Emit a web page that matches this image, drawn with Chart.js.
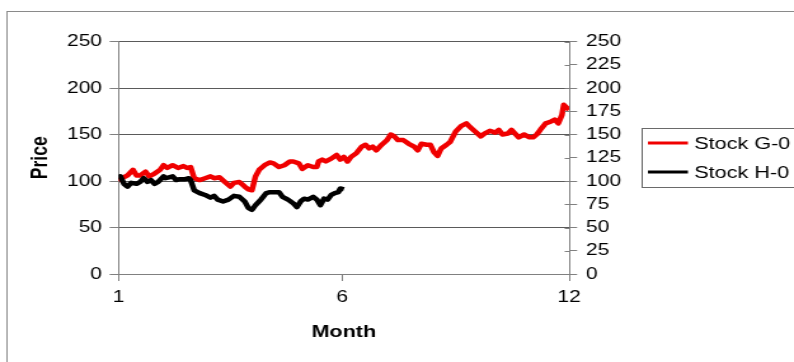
<!DOCTYPE html>
<html>
<head>
<meta charset="utf-8">
<script src="https://cdn.jsdelivr.net/npm/chart.js@4"></script>
<style>
  html, body { margin: 0; padding: 0; background: #fff; overflow: hidden; }
  #wrap { width: 625px; height: 362px; transform: scaleX(1.2704); transform-origin: 0 0; }
</style>
</head>
<body>
<div id="wrap"><canvas id="chart"></canvas></div>
<script>
// trading days on x, month labels only at 3 ticks
const monthTicks = [0, 124, 250];
const monthLabels = ['1', '6', '12'];

const daysG = [0, 2, 5, 8, 10, 12, 15, 17, 20, 23, 25, 27, 30, 33, 36, 38, 40, 42, 45, 48,
    51, 53, 56, 59, 62, 64, 67, 70, 72, 74, 76, 78, 81, 84, 86, 89, 92, 95, 97, 100,
    102, 105, 108, 110, 111, 113, 115, 118, 121, 123, 125, 127, 129, 132, 135, 137, 139, 141, 143, 146,
    149, 151, 153, 155, 158, 161, 164, 166, 168, 171, 173, 175, 177, 179, 182, 184, 187, 190, 193, 195,
    198, 201, 203, 206, 209, 211, 213, 216, 218, 220, 222, 225, 228, 230, 232, 234, 237, 240, 242, 244,
    246, 247, 249, 250];
const pricesG = [100, 103, 106, 112, 106, 106, 110, 105, 108, 112, 117, 114, 117, 114, 116, 114, 115, 103, 101, 103,
    105, 103, 104, 99, 94, 98, 99, 94, 91, 90, 105, 112, 117, 120, 119, 115, 117, 121, 121, 119,
    113, 117, 115, 115, 121, 123, 121, 124, 128, 123, 126, 121, 126, 130, 137, 139, 135, 137, 133, 139,
    144, 150, 148, 144, 144, 140, 137, 133, 140, 139, 139, 131, 127, 135, 139, 142, 153, 159, 162, 158,
    153, 148, 151, 154, 152, 155, 150, 151, 155, 151, 147, 150, 147, 147, 150, 155, 162, 164, 166, 162,
    171, 182, 178, 177];

const daysH = [0, 1, 3, 5, 7, 10, 12, 14, 16, 18, 20, 22, 25, 26, 28, 30, 32, 34, 37, 39,
    40, 42, 45, 48, 51, 53, 55, 58, 61, 64, 67, 70, 72, 74, 76, 79, 82, 84, 86, 89,
    91, 94, 97, 99, 101, 103, 105, 108, 110, 112, 114, 116, 118, 120, 122, 123, 125];
const pricesH = [102, 105, 97, 94, 98, 97, 99, 103, 99, 101, 97, 99, 105, 103, 104, 105, 101, 102, 102, 103,
    101, 90, 87, 85, 82, 84, 80, 78, 80, 84, 83, 78, 71, 69, 74, 80, 87, 88, 88, 88,
    83, 80, 76, 72, 78, 81, 80, 83, 80, 74, 81, 80, 85, 87, 88, 92, 91];

const seriesNames = ['Stock G-0', 'Stock H-0'];

const FONT = 'Liberation Sans, Arial, sans-serif';

const toPoints = (xs, ys) => xs.map((x, i) => ({ x: x, y: ys[i] }));

const framePlugin = {
    id: 'frame',
    beforeDraw(chart) {
        const ctx = chart.ctx;
        ctx.save();
        ctx.fillStyle = '#fff';
        ctx.fillRect(0, 0, chart.width, chart.height);
        ctx.strokeStyle = '#8a8a8a';
        ctx.lineWidth = 1;
        ctx.strokeRect(5.5, 11.5, 900, 900);
        ctx.restore();
    },
    afterDraw(chart) {
        const ctx = chart.ctx;
        // inner half of the crossing ticks on the right axis
        const r = chart.scales.y2;
        ctx.save();
        ctx.strokeStyle = '#808080';
        ctx.lineWidth = 1;
        r.ticks.forEach(t => {
            const y = Math.round(r.getPixelForValue(t.value)) + 0.5;
            ctx.beginPath();
            ctx.moveTo(r.left - 3.5, y);
            ctx.lineTo(r.left, y);
            ctx.stroke();
        });
        // legend box
        ctx.strokeStyle = '#6a6a6a';
        ctx.strokeRect(505.5, 128.5, 300, 59);
        ctx.font = '17px ' + FONT;
        ctx.textBaseline = 'middle';
        ctx.fillStyle = '#000';
        chart.data.datasets.forEach((ds, i) => {
            const y = 143 + i * 29;
            ctx.strokeStyle = ds.borderColor;
            ctx.lineWidth = 3;
            ctx.beginPath();
            ctx.moveTo(510, y);
            ctx.lineTo(541.5, y);
            ctx.stroke();
            ctx.fillText(ds.label, 546.5, y + 1);
        });
        ctx.restore();
    }
};

new Chart(document.getElementById('chart').getContext('2d'), {
    type: 'line',
    data: {
        datasets: [{
            label: seriesNames[0],
            data: toPoints(daysG, pricesG),
            borderColor: '#f00000',
            borderWidth: 4.5,
            pointRadius: 0,
            tension: 0,
            borderJoinStyle: 'round',
            order: 2,
            yAxisID: 'y'
        }, {
            label: seriesNames[1],
            data: toPoints(daysH, pricesH),
            borderColor: '#000000',
            borderWidth: 4.5,
            pointRadius: 0,
            tension: 0,
            borderJoinStyle: 'round',
            order: 1,
            yAxisID: 'y'
        }]
    },
    options: {
        responsive: true,
        maintainAspectRatio: false,
        animation: false,
        layout: { padding: { left: 6, top: 41.5, right: 127, bottom: 0 } },
        plugins: { legend: { display: false }, tooltip: { enabled: false } },
        scales: {
            x: {
                type: 'linear',
                min: 0,
                max: 250,
                afterBuildTicks: s => { s.ticks = monthTicks.map(v => ({ value: v })); },
                afterFit: s => { s.height = 88; },
                ticks: {
                    callback: (v, i) => monthLabels[i],
                    autoSkip: false,
                    maxRotation: 0,
                    padding: 7,
                    color: '#000',
                    font: { family: FONT, size: 16.5 }
                },
                grid: { drawOnChartArea: false, tickLength: 7, color: '#808080' },
                border: { color: '#808080' },
                title: {
                    display: true,
                    text: 'Month',
                    color: '#000',
                    font: { family: FONT, size: 17, weight: 'bold' },
                    padding: { top: 0, bottom: 19 }
                }
            },
            y: {
                position: 'left',
                min: 0,
                max: 250,
                afterFit: s => { s.width = 87.3; },
                ticks: {
                    stepSize: 50,
                    padding: 6,
                    color: '#000',
                    font: { family: FONT, size: 16.5 }
                },
                grid: { color: '#5a5a5a', tickLength: 7, tickColor: '#808080' },
                border: { color: '#808080' },
                title: {
                    display: true,
                    text: 'Price',
                    color: '#000',
                    font: { family: FONT, size: 17.5, weight: 'bold' },
                    padding: { top: 16, bottom: 0 }
                }
            },
            y2: {
                position: 'right',
                min: 0,
                max: 250,
                afterFit: s => { s.width = 50; },
                ticks: {
                    stepSize: 25,
                    padding: 7,
                    color: '#000',
                    font: { family: FONT, size: 16.5 }
                },
                grid: { drawOnChartArea: false, tickLength: 6.3, color: '#808080' },
                border: { color: '#808080' }
            }
        }
    },
    plugins: [framePlugin]
});
</script>
</body>
</html>
